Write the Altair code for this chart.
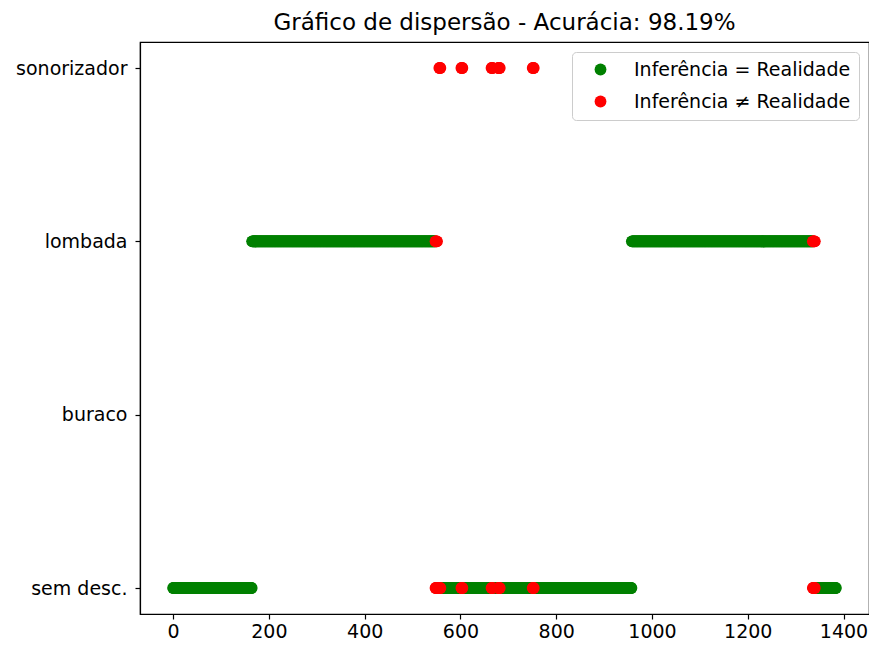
import altair as alt
import pandas as pd

# Classes (y positions by index)
classes = ["sem desc.", "buraco", "lombada", "sonorizador"]

# Runs of consecutive sample indices whose inference matched reality
run_start = [0, 165, 552, 958, 1341]
run_end = [164, 547, 957, 1335, 1384]
run_class = ["sem desc.", "lombada", "sem desc.", "lombada", "sem desc."]

# Samples where inference differed from reality
err_idx = [548, 549, 550, 551, 556, 557, 558, 602, 603, 604, 665, 666, 667,
           679, 680, 681, 682, 751, 752, 753, 1336, 1337, 1338, 1339, 1340]
err_true = ["lombada"] * 4 + ["sonorizador"] * 16 + ["lombada"] * 5
err_pred = ["sem desc."] * 25

x_ticks = [0, 200, 400, 600, 800, 1000, 1200, 1400]

lbl_ok = "Inferência = Realidade"
lbl_err = "Inferência ≠ Realidade"

rows = []
for s, e, c in zip(run_start, run_end, run_class):
    for i in range(s, e + 1):
        rows.append({"amostra": i, "classe": classes.index(c), "status": lbl_ok})
for i, t, p in zip(err_idx, err_true, err_pred):
    rows.append({"amostra": i, "classe": classes.index(t), "status": lbl_err})
    rows.append({"amostra": i, "classe": classes.index(p), "status": lbl_err})
df = pd.DataFrame(rows)

label_expr = "[" + ",".join("'%s'" % c for c in classes) + "][datum.value]"

chart = alt.Chart(df).mark_circle(size=140, opacity=1).encode(
    x=alt.X("amostra:Q",
            scale=alt.Scale(domain=[-69.2, 1453.2], nice=False, zero=False),
            axis=alt.Axis(values=x_ticks, format="d", title=None, grid=False,
                          labelPadding=3)),
    y=alt.Y("classe:Q",
            scale=alt.Scale(domain=[-0.15, 3.15], nice=False, zero=False),
            axis=alt.Axis(values=[0, 1, 2, 3], labelExpr=label_expr,
                          title=None, grid=False, labelPadding=8)),
    color=alt.Color("status:N",
                    scale=alt.Scale(domain=[lbl_ok, lbl_err], range=["#008000", "#ff0000"]),
                    legend=alt.Legend(title=None, orient="top-right", offset=10,
                                      strokeColor="#cccccc", fillColor="white",
                                      cornerRadius=4, padding=8,
                                      symbolType="circle", symbolSize=140,
                                      symbolOffset=11, labelOffset=24,
                                      rowPadding=12, labelFontSize=19, labelLimit=0,
                                      labelFont="DejaVu Sans", labelColor="black")),
    order=alt.Order("status:N"),
).properties(
    width=729, height=572,
    title=alt.Title("Gráfico de dispersão - Acurácia: 98.19%", fontSize=23,
                    font="DejaVu Sans", fontWeight="normal", color="black", offset=7),
    autosize="none",
    padding={"left": 132, "top": 34, "right": 0, "bottom": 26},
).configure_view(stroke="black", strokeWidth=1.2).configure_axis(
    labelFont="DejaVu Sans", labelFontSize=19, labelColor="black",
    tickColor="black", tickSize=5, domainColor="black", domainWidth=1.2,
    tickWidth=1.2
)

chart.save("out.html", embed_options={"renderer": "svg", "actions": False})
